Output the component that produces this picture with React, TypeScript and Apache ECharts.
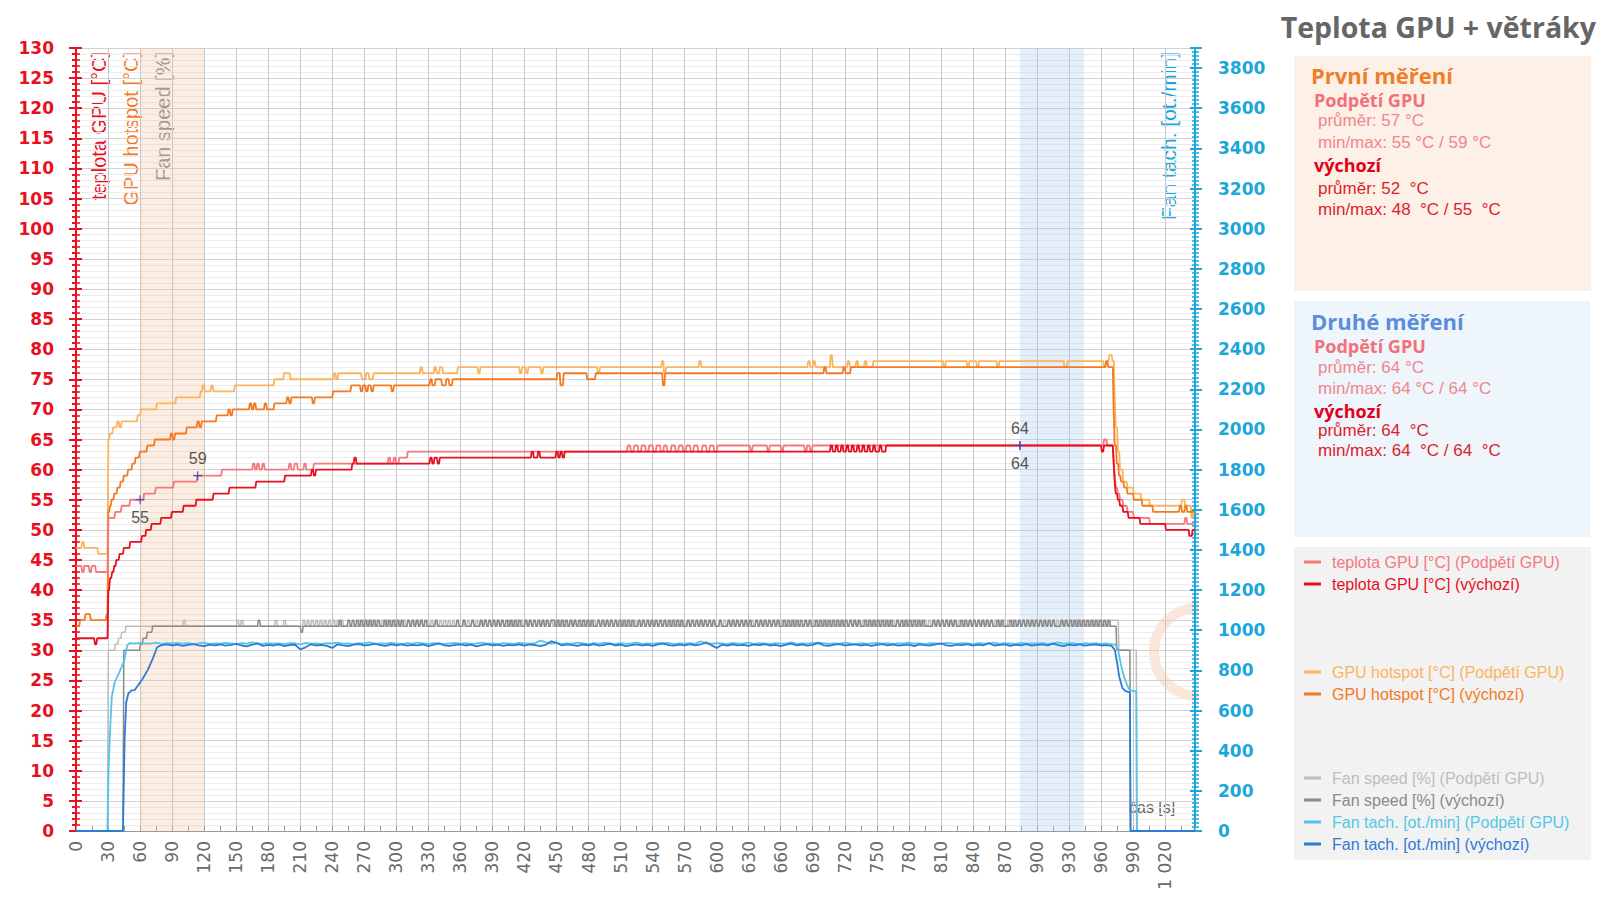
import React, { useEffect, useRef } from 'react';
import * as echarts from 'echarts';

const T_MAX = 1048;
const FONT = "'Liberation Sans', Arial, sans-serif";
const AXIS_FONT = "'DejaVu Sans', Verdana, sans-serif";
const HEAD_FONT = "'Open Sans', 'Noto Sans', sans-serif";

// ---- series names & colours ----
const NAME_TEMP_UV = 'teplota GPU [°C] (Podpětí GPU)';
const NAME_TEMP_DEF = 'teplota GPU [°C] (výchozí)';
const NAME_HOT_UV = 'GPU hotspot [°C] (Podpětí GPU)';
const NAME_HOT_DEF = 'GPU hotspot [°C] (výchozí)';
const NAME_FAN_UV = 'Fan speed [%] (Podpětí GPU)';
const NAME_FAN_DEF = 'Fan speed [%] (výchozí)';
const NAME_TACH_UV = 'Fan tach. [ot./min] (Podpětí GPU)';
const NAME_TACH_DEF = 'Fan tach. [ot./min] (výchozí)';

const C_TEMP_UV = '#f5787e';
const C_TEMP_DEF = '#e8101e';
const C_HOT_UV = '#fbb45c';
const C_HOT_DEF = '#f47a22';
const C_FAN_UV = '#bdbdbd';
const C_FAN_DEF = '#8a8a8a';
const C_TACH_UV = '#56c5e8';
const C_TACH_DEF = '#2d7cd4';

// ---- temperature change points [time s, value] (value holds from time on) ----
const tempUV = [
  [0, 44], [5, 43], [7, 44], [12, 43], [14, 44], [18, 43], [29.5, 52], [36, 53], [42, 54], [50, 55],
  [63, 56], [74, 57], [91, 58], [113, 59], [136, 60], [165, 61], [167, 60], [169, 61], [171, 60],
  [174, 61], [176, 60], [199, 61], [201, 60], [204, 61], [207, 60], [213, 61], [215, 60], [222, 61],
  [292, 62], [294, 61], [297, 62], [299, 61], [302, 62], [310, 63],
  [516, 64], [519, 63], [522, 64], [526, 63], [529, 64], [533, 63], [536, 64], [540, 63], [543, 64],
  [547, 63], [550, 64], [553, 63], [557, 64], [561, 63], [564, 64], [568, 63], [571, 64], [575, 63],
  [578, 64], [582, 63], [586, 64], [590, 63], [593, 64], [597, 63], [600, 64],
  [631, 63], [633, 64], [647, 63], [649, 64], [660, 63], [662, 64], [682, 63], [684, 64], [687, 63], [689, 64],
  [962, 65], [965, 64], [971, 62], [972, 59], [973, 57], [975, 56], [977, 55], [980, 54], [984, 53],
  [990, 52], [1005, 51], [1038, 52], [1040, 51],
];
const tempDef = [
  [0, 32], [17, 31], [19, 32], [29.5, 40], [31, 42], [33, 43], [35, 44], [37, 45], [40, 46], [44, 47],
  [50, 48], [61, 49], [65, 50], [70, 51], [79, 52], [89, 53], [100, 54], [112, 55], [128, 56], [143, 57],
  [168, 58], [195, 59], [220, 60], [222, 59], [224, 60], [258, 61], [260, 62], [262, 61], [331, 62],
  [333, 61], [335, 62], [338, 61], [340, 62], [426, 63], [428, 62], [432, 63], [434, 62], [449, 63],
  [451, 62], [453, 63], [455, 62], [457, 63],
  [706, 64], [708, 63], [711, 64], [713, 63], [716, 64], [718, 63], [721, 64], [723, 63], [726, 64],
  [728, 63], [731, 64], [733, 63], [736, 64], [738, 63], [741, 64], [743, 63], [746, 64], [748, 63],
  [752, 64], [754, 63], [758, 64],
  [960, 63], [962, 64], [971, 61], [972, 58], [973, 56], [975, 55], [977, 54], [980, 53], [985, 52],
  [996, 51], [1020, 50], [1042, 49], [1045, 50],
];
const hotUV = [
  [0, 47], [5, 48], [7, 47], [20, 46], [29.5, 65], [31, 66], [34, 67], [38, 68], [40, 67], [42, 68],
  [57, 69], [60, 70], [75, 71], [93, 72], [116, 73], [118, 74], [120, 73], [126, 74], [128, 73],
  [148, 74], [185, 75], [194, 76], [200, 75], [241, 76], [243, 75], [245, 76], [267, 75], [271, 76],
  [274, 75], [278, 76], [322, 77], [324, 76], [335, 77], [337, 76], [340, 77], [343, 76], [357, 77],
  [376, 76], [378, 77], [415, 76], [417, 77], [421, 76], [423, 77], [435, 76], [437, 77], [488, 76],
  [490, 77], [548, 78], [550, 76], [552, 77], [583, 78], [585, 77], [685, 78], [687, 77], [690, 78],
  [692, 77], [706, 79], [708, 77], [722, 78], [724, 77], [730, 78], [732, 77], [738, 78], [740, 77],
  [746, 78],
  [812, 77], [814, 78], [834, 77], [836, 78], [843, 77], [845, 78], [862, 77], [864, 78], [925, 77],
  [928, 78], [962, 77], [964, 78], [967, 79], [970, 78], [972, 72], [973, 67], [975, 63], [977, 60],
  [980, 58], [984, 57], [990, 56], [997, 55], [1005, 54], [1035, 55], [1038, 54], [1044, 52], [1046, 53],
];
const hotDef = [
  [0, 34], [3, 35], [8, 36], [13, 35], [28, 36], [29.5, 53], [31, 54], [32.5, 55], [35, 56], [38, 57],
  [41, 58], [44, 59], [48, 60], [52, 61], [55, 62], [59, 63], [66, 64], [73, 65], [88, 66], [90, 65],
  [92, 66], [103, 67], [113, 68], [115, 67], [117, 68], [131, 69], [142, 70], [144, 69], [146, 70],
  [162, 71], [164, 70], [166, 71], [168, 70], [176, 71], [178, 70], [185, 71], [197, 72], [199, 71],
  [201, 72], [221, 71], [223, 72], [240, 73], [257, 74], [266, 73], [268, 74], [271, 73], [273, 74],
  [276, 73], [278, 74], [295, 73], [297, 74], [331, 75], [333, 74], [336, 75], [342, 74], [346, 75],
  [349, 74], [352, 75], [450, 76], [453, 74], [456, 76], [478, 75], [486, 76], [549, 74], [551, 76],
  [700, 77], [702, 76], [718, 77], [720, 76], [725, 77],
  [964, 78], [966, 77], [971, 70], [972, 64], [974, 61], [976, 59], [978, 58], [981, 57], [984, 56],
  [990, 55], [998, 54], [1008, 53], [1033, 54], [1035, 53], [1038, 54], [1040, 53],
];

// ---- fan speed [%]: start, then 2-second pattern from 80 s ('4' = 34, '5' = 35, '3' = 33), then end ----
const fanDefHead = [[0, 0], [44, 30], [59.5, 31], [62, 32], [66, 33], [71, 34]];
const fanDefPattern = [
  '4444444444', '4444444444', '4444444444', '4444444444', '4444454444', '4444444444', '4444434444', '4444444444',
  '4445444545', '4545454545', '4544545454', '5454454545', '4545444454', '4444444454', '4544454445', '4545454545',
  '4545454544', '5454545454', '5455454545', '4545454545', '4544545454', '5454545454', '5445454545', '4545454545',
  '4545445454', '5454545454', '4544454545', '4545454454', '5454545454', '4545454545', '4545445454', '5454545454',
  '5454545445', '4545454545', '4544545454', '5454545444', '4545454545', '4544545454', '5454545454', '4545444545',
  '4545454545', '4545454544', '4545454545', '4545454545', '45454',
].join('');
const fanDefTail = [[974, 30], [987, 0]];

const fanUVHead = [[0, 0], [29.5, 30], [36, 31], [39, 32], [42, 33], [46, 34]];
const fanUVPattern = [
  '4444444444', '5444444444', '4444444444', '4444454544', '4444444444', '4445444544', '4444445454', '5454545454',
  '5454544444', '4454545454', '5445454545', '4545454545', '4544545454', '5454545444', '4545454545', '4545454545',
  '4454545454', '5454545454', '5454545454', '4545445454', '5454545454', '5454454545', '4545454545', '4545454454',
  '5454545454', '5454545454', '4545454545', '4545445454', '5454545454', '5454545454', '4545454545', '4545454545',
  '4454545454', '5454545454', '5454544545', '4545454545', '4545454545', '4545454454', '5454545454', '5454545454',
  '4545454545', '4545454545', '4545445454', '5454545454', '54545',
].join('');
const fanUVTail = [[976, 30], [993, 0]];

// ---- fan tach [rpm] ----
const tachDefHead = [[0, 0], [44, 0], [45.5, 450], [47, 640], [49, 685], [52, 700], [55, 702], [58, 725],
  [62, 755], [67, 800], [72, 860], [76, 915]];
const tachDefStart = 80;
const tachDefValues = [
  926, 930, 924, 928, 922, 927, 931, 925, 921, 928,
  925, 929, 923, 927, 932, 924, 920, 928, 934, 922,
  927, 924, 930, 921, 926, 929, 905, 915, 930, 924,
  927, 922, 912, 930, 925, 921, 928, 931, 924, 927,
  933, 926, 922, 929, 924, 930, 923, 927, 925, 929,
  921, 928, 934, 925, 922, 927, 930, 924, 928, 920,
  926, 931, 924, 928, 922, 927, 925, 930, 923, 929,
  926, 921, 928, 945, 938, 924, 930, 926, 922, 929,
  925, 931, 923, 927, 933, 924, 928, 921, 926, 930,
  924, 928, 922, 929, 935, 926, 923, 928, 925, 931,
  924, 929, 940, 926, 912, 928, 923, 930, 925, 927,
  922, 929, 926, 931, 924, 927, 921, 928, 933, 925,
  929, 923, 927, 938, 925, 922, 928, 931, 924, 927,
  930, 924, 928, 922, 927, 931, 925, 929, 923, 926,
  928, 921, 930, 926, 924, 929, 935, 925, 922, 928,
  926, 931, 923, 928, 925, 936, 924, 927, 930, 922,
  928, 925, 931, 923, 927, 929, 924, 933, 926, 921,
  928, 925, 930, 923, 927, 929, 924, 926,
];
const tachDefTail = [[970, 922], [973, 900], [975, 840], [977, 770], [980, 712], [983, 697], [987, 690],
  [987.5, 0], [T_MAX, 0]];

const tachUVHead = [[0, 0], [29.5, 0], [30.5, 300], [31.5, 450], [33.5, 670], [36.5, 745], [41, 795],
  [45, 845], [48, 925]];
const tachUVStart = 50;
const tachUVValues = [
  936, 934, 937, 933, 935, 938, 932, 936, 934, 937,
  933, 936, 931, 935, 938, 932, 935, 933, 937, 934,
  931, 936, 933, 939, 934, 932, 936, 933, 935, 931,
  936, 934, 930, 937, 933, 935, 932, 936, 934, 938,
  933, 935, 931, 936, 934, 939, 932, 935, 933, 937,
  934, 931, 936, 933, 938, 935, 932, 936, 934, 931,
  935, 937, 933, 936, 932, 934, 938, 933, 935, 931,
  936, 934, 932, 937, 935, 933, 936, 948, 940, 934,
  937, 932, 935, 933, 938, 934, 931, 936, 933, 937,
  934, 931, 936, 933, 935, 939, 932, 935, 933, 936,
  934, 937, 931, 935, 933, 936, 932, 945, 935, 933,
  936, 934, 931, 937, 933, 935, 938, 932, 936, 934,
  931, 936, 933, 935, 939, 932, 935, 933, 937, 934,
  936, 932, 935, 933, 938, 934, 931, 936, 933, 935,
  937, 933, 936, 932, 935, 934, 938, 933, 935, 931,
  936, 934, 932, 937, 935, 933, 936, 934, 931, 936,
  933, 935, 938, 932, 936, 934, 931, 937, 933, 935,
  934, 936, 932, 935, 939, 933, 936, 934, 931, 936,
  933, 935, 932, 934, 930,
];
const tachUVTail = [[973, 930], [976, 900], [979, 820], [982, 760], [985, 720], [987, 700], [993, 695],
  [993.5, 0], [T_MAX, 0]];

// ---- axis ticks ----
const tempAxis = { min: 0, max: 130, interval: 5 };
const rpmAxis = { min: 0, max: 3900, interval: 200 };
const timeAxis = { min: 0, max: T_MAX, interval: 30 };

// ---- builders ----
function stepLine(points: number[][], end: number, d = 0.8): number[][] {
  const pts: number[][] = [];
  points.forEach((p) => {
    if (pts.length && pts[pts.length - 1][1] === p[1]) return;
    pts.push(p);
  });
  const out: number[][] = [];
  pts.forEach(([t, v], i) => {
    if (i === 0) { out.push([t, v]); return; }
    out.push([t, pts[i - 1][1]], [t + d, v]);
  });
  out.push([end, pts[pts.length - 1][1]]);
  return out;
}
function patternPoints(start: number, step: number, pattern: string): number[][] {
  return pattern.split('').map((ch, i) => [start + i * step, 30 + Number(ch)]);
}
function sampled(head: number[][], start: number, step: number, values: number[], tail: number[][]) {
  return [...head, ...values.map((v, i) => [start + i * step, v]), ...tail];
}
function timeLabel(v: number): string {
  if (v >= 1000) return `${Math.floor(v / 1000)} ${String(v % 1000).padStart(3, '0')}`;
  return String(v);
}

const PLUS = 'path://M4.4,0h1.2v10h-1.2zM0,4.4h10v1.2h-10z';

export default function App() {
  const ref = useRef<HTMLDivElement>(null);
  useEffect(() => {
    if (!ref.current) return;
    const chart = echarts.init(ref.current, null, { renderer: 'svg' });

    const lineBase = (name: string, color: string, data: number[][], yAxisIndex = 0, width = 1.8) => ({
      name, type: 'line', data, yAxisIndex, showSymbol: false, symbol: 'none',
      lineStyle: { color, width }, itemStyle: { color }, silent: true,
    });

    const markLabel = (text: string, position: string) => ({
      show: true, formatter: text, position, distance: 5, fontSize: 16, color: '#555', fontFamily: FONT,
    });

    const series: any[] = [
      {
        ...lineBase(NAME_FAN_UV, C_FAN_UV, stepLine([...fanUVHead, ...patternPoints(80, 2, fanUVPattern), ...fanUVTail], T_MAX), 0, 1.5),
        markArea: {
          silent: true,
          data: [
            [{ xAxis: 60, itemStyle: { color: 'rgba(245,190,150,0.28)' } }, { xAxis: 120 }],
            [{ xAxis: 884, itemStyle: { color: 'rgba(170,205,235,0.32)' } }, { xAxis: 944 }],
          ],
        },
      },
      lineBase(NAME_FAN_DEF, C_FAN_DEF, stepLine([...fanDefHead, ...patternPoints(80, 2, fanDefPattern), ...fanDefTail], T_MAX), 0, 1.5),
      lineBase(NAME_TACH_UV, C_TACH_UV, sampled(tachUVHead, tachUVStart, 5, tachUVValues, tachUVTail), 1, 1.8),
      lineBase(NAME_TACH_DEF, C_TACH_DEF, sampled(tachDefHead, tachDefStart, 5, tachDefValues, tachDefTail), 1, 1.8),
      lineBase(NAME_HOT_UV, C_HOT_UV, stepLine(hotUV, T_MAX)),
      lineBase(NAME_HOT_DEF, C_HOT_DEF, stepLine(hotDef, T_MAX)),
      {
        ...lineBase(NAME_TEMP_UV, C_TEMP_UV, stepLine(tempUV, T_MAX)),
        markPoint: {
          symbol: PLUS, symbolSize: 9, itemStyle: { color: '#4040c0' }, silent: true,
          data: [
            { coord: [60, 55], label: markLabel('55', 'bottom') },
            { coord: [114, 59], label: markLabel('59', 'top') },
            { coord: [884, 64], label: markLabel('64', 'top') },
          ],
        },
      },
      {
        ...lineBase(NAME_TEMP_DEF, C_TEMP_DEF, stepLine(tempDef, T_MAX)),
        markPoint: {
          symbol: PLUS, symbolSize: 9, itemStyle: { color: '#4040c0' }, silent: true,
          data: [{ coord: [884, 64], label: markLabel('64', 'bottom') }],
        },
      },
    ];

    const legendCommon = {
      orient: 'vertical', left: 1299, itemGap: 6, itemWidth: 17, itemHeight: 3, icon: 'rect',
      selectedMode: false, textStyle: { fontSize: 16, fontFamily: FONT, padding: [0, 0, 0, 6] },
    };
    const li = (name: string, color: string) => ({ name, textStyle: { color } });

    const txt = (text: string, x: number, y: number, color: string, size: number, bold = false, family = FONT) => ({
      type: 'text', x, y, silent: true,
      style: {
        text, fill: color, font: `${bold ? 'bold ' : ''}${size}px ${family}`,
        align: 'left', verticalAlign: 'middle', textAlign: 'left', textVerticalAlign: 'middle',
      },
    });
    const vtxt = (text: string, x: number, y: number, color: string, size: number) => ({
      type: 'text', x, y, rotation: Math.PI / 2, silent: true,
      style: {
        text, fill: color, font: `${size}px ${FONT}`,
        align: 'right', verticalAlign: 'middle', textAlign: 'right', textVerticalAlign: 'middle',
      },
    });

    const option: any = {
      animation: false,
      backgroundColor: '#ffffff',
      grid: { left: 76, right: 405, top: 48, bottom: 68, containLabel: false },
      xAxis: {
        type: 'value', ...timeAxis,
        axisLine: { show: true, lineStyle: { color: '#9a9a9a', width: 1 } },
        axisTick: { show: true, inside: true, length: 5, lineStyle: { color: '#9a9a9a' } },
        minorTick: { show: true, splitNumber: 2, length: 5, lineStyle: { color: '#9a9a9a' } },
        axisLabel: {
          rotate: 90, margin: 10, fontSize: 17, color: '#6a6a6a', fontFamily: AXIS_FONT, showMaxLabel: false,
          formatter: timeLabel,
        },
        splitLine: { show: true, lineStyle: { color: '#c6c6c6', width: 1 } },
      },
      yAxis: [
        {
          type: 'value', ...tempAxis, position: 'left',
          axisLine: { show: true, lineStyle: { color: '#e8101e', width: 2 } },
          axisTick: { show: true, length: 7, lineStyle: { color: '#e8101e', width: 2 } },
          minorTick: { show: true, splitNumber: 5, length: 4, lineStyle: { color: '#e8101e', width: 2 } },
          axisLabel: { margin: 22, fontSize: 17, fontWeight: 'bold', color: '#e8101e', fontFamily: AXIS_FONT },
          splitLine: { show: true, lineStyle: { color: '#d2d2d2', width: 1 } },
          minorSplitLine: { show: true, lineStyle: { color: '#ececec', width: 1 } },
        },
        {
          type: 'value', ...rpmAxis, position: 'right',
          axisLine: { show: true, lineStyle: { color: '#1ca6dc', width: 2 } },
          axisTick: { show: true, length: 7, lineStyle: { color: '#1ca6dc', width: 2 } },
          minorTick: { show: true, splitNumber: 10, length: 4, lineStyle: { color: '#1ca6dc', width: 1.5 } },
          axisLabel: {
            margin: 23, fontSize: 17, fontWeight: 'bold', color: '#1ca6dc', fontFamily: AXIS_FONT,
            showMaxLabel: false, formatter: (v: number) => String(v),
          },
          splitLine: { show: false },
        },
        {
          type: 'value', ...tempAxis, position: 'left',
          axisLine: { show: false },
          axisTick: { show: true, inside: true, length: 6, lineStyle: { color: '#e8101e', width: 2 } },
          minorTick: { show: true, splitNumber: 5, length: 4, lineStyle: { color: '#e8101e', width: 1.5 } },
          axisLabel: { show: false },
          splitLine: { show: false },
        },
        {
          type: 'value', ...rpmAxis, position: 'right',
          axisLine: { show: false },
          axisTick: { show: true, inside: true, length: 5, lineStyle: { color: '#1ca6dc', width: 2 } },
          minorTick: { show: true, splitNumber: 10, length: 3, lineStyle: { color: '#1ca6dc', width: 1.5 } },
          axisLabel: { show: false },
          splitLine: { show: false },
        },
      ],
      legend: [
        { ...legendCommon, top: 549, data: [li(NAME_TEMP_UV, C_TEMP_UV), li(NAME_TEMP_DEF, C_TEMP_DEF)] },
        { ...legendCommon, top: 659, data: [li(NAME_HOT_UV, C_HOT_UV), li(NAME_HOT_DEF, C_HOT_DEF)] },
        {
          ...legendCommon, top: 765,
          data: [li(NAME_FAN_UV, C_FAN_UV), li(NAME_FAN_DEF, C_FAN_DEF), li(NAME_TACH_UV, C_TACH_UV), li(NAME_TACH_DEF, C_TACH_DEF)],
        },
      ],
      graphic: [
        { type: 'rect', shape: { x: 1294, y: 56, width: 297, height: 235 }, style: { fill: '#fdf0e6' }, z: -1, silent: true },
        { type: 'rect', shape: { x: 1294, y: 301, width: 296, height: 236 }, style: { fill: '#eef5fb' }, z: -1, silent: true },
        { type: 'rect', shape: { x: 1294, y: 547, width: 297, height: 313 }, style: { fill: '#f2f2f2' }, z: -1, silent: true },
        {
          type: 'arc', z: -1, silent: true,
          shape: { cx: 1198, cy: 652, r: 44, startAngle: Math.PI * 0.5, endAngle: Math.PI * 1.5 },
          style: { stroke: 'rgba(245,165,115,0.28)', lineWidth: 10, fill: 'none' },
        },
        {
          type: 'text', x: 1596, y: 27, silent: true,
          style: {
            text: 'Teplota GPU + větráky', fill: '#666666', font: `bold 28.5px ${HEAD_FONT}`,
            align: 'right', verticalAlign: 'middle', textAlign: 'right', textVerticalAlign: 'middle',
          },
        },
        txt('První měření', 1311, 75, '#f07d28', 22, true, HEAD_FONT),
        txt('Podpětí GPU', 1314, 100, '#f36f7a', 18, true, HEAD_FONT),
        txt('průměr: 57 °C', 1318, 120, '#f0868c', 17),
        txt('min/max: 55 °C / 59 °C', 1318, 142, '#f0868c', 17),
        txt('výchozí', 1314, 165, '#e3001b', 18, true, HEAD_FONT),
        txt('průměr: 52  °C', 1318, 188, '#dc1e2d', 17),
        txt('min/max: 48  °C / 55  °C', 1318, 209, '#dc1e2d', 17),

        txt('Druhé měření', 1311, 321, '#5b8ddb', 22, true, HEAD_FONT),
        txt('Podpětí GPU', 1314, 346, '#f36f7a', 18, true, HEAD_FONT),
        txt('průměr: 64 °C', 1318, 367, '#f0868c', 17),
        txt('min/max: 64 °C / 64 °C', 1318, 388, '#f0868c', 17),
        txt('výchozí', 1314, 411, '#e3001b', 18, true, HEAD_FONT),
        txt('průměr: 64  °C', 1318, 430, '#dc1e2d', 17),
        txt('min/max: 64  °C / 64  °C', 1318, 450, '#dc1e2d', 17),

        vtxt('teplota GPU [°C]', 99, 52, '#e8101e', 20),
        vtxt('GPU hotspot [°C]', 131, 52, '#f47a22', 20),
        vtxt('Fan speed [%]', 163, 52, '#8a8a8a', 20),
        vtxt('Fan tach. [ot./min]', 1168, 52, '#1ca6dc', 21),
        txt('čas [s]', 1129, 807, '#666666', 16),
      ],
      series,
    };
    chart.setOption(option);
    return () => chart.dispose();
  }, []);
  return <div ref={ref} style={{ position: 'fixed', left: 0, top: 0, width: 1600, height: 899 }} />;
}
